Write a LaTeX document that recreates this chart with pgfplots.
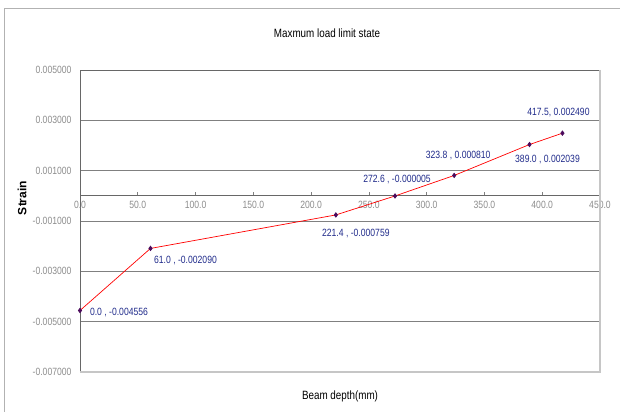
\documentclass[border=0pt]{standalone}
\usepackage{fontspec}
\setmainfont{Liberation Sans}
\newfontfamily\narrow{Liberation Sans}[FakeStretch=0.82]
\usepackage{pgfplots}
\usepackage{pgfplotstable}
\pgfplotsset{compat=1.18}
\definecolor{lbl}{HTML}{1F2A8A}
\definecolor{ticktxt}{HTML}{8C8C8C}
\definecolor{gridc}{HTML}{808080}
\definecolor{mk}{HTML}{4B0A5C}

% x; y; label; label offset (dx, dy in pt)
\pgfplotstableread[col sep=semicolon]{
x;y;lab;dx;dy
0.0;-0.004556;0.0 , -0.004556;39;-2
61.0;-0.002090;61.0 , -0.002090;35;-12
221.4;-0.000759;221.4 , -0.000759;20;-19
272.6;-0.000005;272.6 , -0.000005;2;16
323.8;0.000810;323.8 , 0.000810;4;20
389.0;0.002039;389.0 , 0.002039;18;-15
417.5;0.002490;417.5, 0.002490;-4;21
}\strain

\begin{document}
\begin{tikzpicture}[x=1pt,y=1pt]
\useasboundingbox (0,0) rectangle (620,412);
\draw[gray!60, line width=0.8pt] (4,0) -- (4,404) -- (620,404);
\node[font=\narrow\fontsize{12}{14}\selectfont] at (327,379) {Maxmum load limit state};
\node[font=\narrow\fontsize{12}{14}\selectfont] at (340,16) {Beam depth(mm)};
\node[rotate=90, font=\bfseries\fontsize{12}{14}\selectfont] at (22,214) {Strain};

\begin{axis}[
  at={(80pt,40pt)}, anchor=south west, scale only axis,
  width=520pt, height=302pt,
  xmin=0, xmax=450, ymin=-0.007, ymax=0.005,
  axis x line=middle, axis y line=left,
  axis line style={-, gridc!80!black, line width=0.7pt},
  hide obscured x ticks=false,
  xtick={0,50,...,450},
  ytick={-0.007,-0.005,-0.003,-0.001,0.001,0.003,0.005},
  scaled y ticks=false,
  xtick align=inside,
  xtick style={gridc, line width=0.6pt},
  ytick style={draw=none},
  x tick label style={font=\narrow\fontsize{10.5}{12}\selectfont, text=ticktxt, anchor=north, yshift=-2pt,
    /pgf/number format/.cd, fixed, zerofill, precision=1, assume math mode=true},
  y tick label style={font=\narrow\fontsize{10.5}{12}\selectfont, text=ticktxt, xshift=-3pt,
    /pgf/number format/.cd, fixed, zerofill, precision=6, assume math mode=true},
  major tick length=4pt,
  ymajorgrids, grid style={gridc, line width=0.6pt},
  clip=false,
]
\addplot[red, line width=0.7pt, mark=diamond*, mark size=2.2pt,
  mark options={draw=mk, fill=mk},
  point meta=explicit symbolic,
  visualization depends on={\thisrow{dx} \as \dx},
  visualization depends on={\thisrow{dy} \as \dy},
  nodes near coords,
  nodes near coords style={anchor=center, xshift=\dx pt, yshift=\dy pt,
    font=\narrow\fontsize{10.5}{12}\selectfont, text=lbl}]
  table[x=x, y=y, meta=lab] {\strain};
\draw[gridc!80!black, line width=0.7pt] (rel axis cs:0,1) -- (rel axis cs:1,1);
\draw[gray!45, line width=1.3pt] (rel axis cs:1,1) -- (rel axis cs:1,0) -- (rel axis cs:0,0);
\end{axis}
\end{tikzpicture}
\end{document}
